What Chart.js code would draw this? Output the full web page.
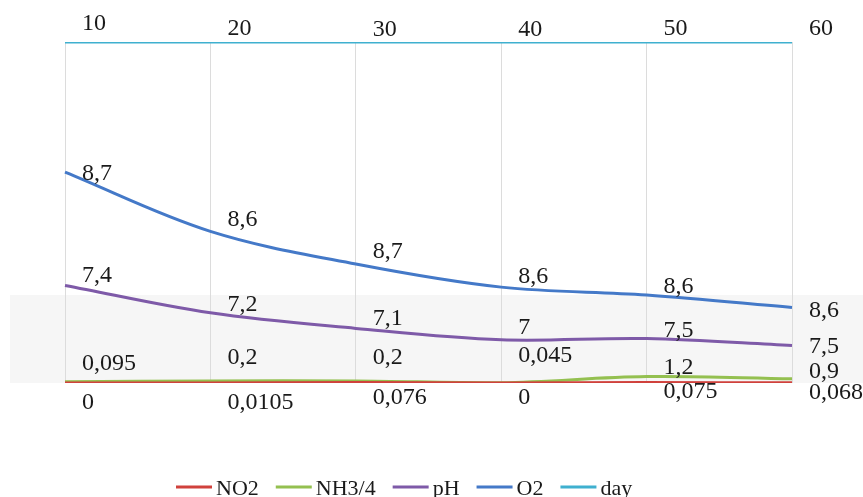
<!DOCTYPE html>
<html>
<head>
<meta charset="utf-8">
<title>Water parameters by day</title>
<script src="https://cdn.jsdelivr.net/npm/chart.js@4.4.1/dist/chart.umd.min.js"></script>
<style>
  html, body { margin: 0; padding: 0; background: #ffffff; }
  #wrap { position: relative; width: 863px; height: 497px; }
</style>
</head>
<body>
<div id="wrap"><canvas id="chart" width="863" height="497"></canvas></div>
<script>
// Measurements per sampling day
const days = [10, 20, 30, 40, 50, 60];
const no2  = [0, 0.0105, 0.076, 0, 0.075, 0.068];
const nh3  = [0.095, 0.2, 0.2, 0.045, 1.2, 0.9];
const ph   = [7.4, 7.2, 7.1, 7, 7.5, 7.5];
const o2   = [8.7, 8.6, 8.7, 8.6, 8.6, 8.6];
const dayValues = days.slice();

const seriesNames = ['NO2', 'NH3/4', 'pH', 'O2', 'day'];
const seriesValues = [no2, nh3, ph, o2, dayValues];
const seriesColors = ['#d0413c', '#94c050', '#7e5aa8', '#4479c8', '#3fb0cf'];

// Vertical placement of each value label relative to its point (px)
const labelShiftY = [
  [20, 20, 15, 15, 9, 10],
  [-18, -23, -23, -27, -9, -7],
  [-10, -8, -10, -12, -8, 1],
  [2, -12, -12, -10, -8, 3],
  [-18, -13, -12, -12, -13, -13]
];

// 100% stacked: each series expressed as a share of the per-day total
const totals = days.map((_, i) => seriesValues.reduce((s, arr) => s + arr[i], 0));
const toShare = arr => arr.map((v, i) => v / totals[i] * 100);

const FONT = '"Liberation Serif", "Times New Roman", serif';

const datasets = seriesNames.map((name, k) => ({
  label: name,
  data: toShare(seriesValues[k]),
  raw: seriesValues[k],
  borderColor: seriesColors[k],
  backgroundColor: seriesColors[k],
  borderWidth: 3,
  pointRadius: 0,
  pointHoverRadius: 0,
  tension: 0.35,
  fill: false,
  order: k
}));

// Light band behind the lower part of the plot
const bandPlugin = {
  id: 'band',
  beforeDraw(chart) {
    const { ctx, chartArea } = chart;
    ctx.save();
    ctx.fillStyle = '#f6f6f6';
    ctx.fillRect(10, chartArea.bottom - 88, chart.width - 10, 88);
    ctx.restore();
  }
};

// Value labels: raw value written right of each point
const valueLabels = {
  id: 'valueLabels',
  afterDatasetsDraw(chart) {
    const { ctx } = chart;
    ctx.save();
    ctx.font = '24px ' + FONT;
    ctx.fillStyle = '#1a1a1a';
    ctx.textAlign = 'left';
    ctx.textBaseline = 'middle';
    chart.data.datasets.forEach((ds, k) => {
      const meta = chart.getDatasetMeta(k);
      meta.data.forEach((pt, i) => {
        const txt = String(ds.raw[i]).replace('.', ',');
        ctx.fillText(txt, pt.x + 17, pt.y + labelShiftY[k][i]);
      });
    });
    ctx.restore();
  }
};

// Series key along the bottom edge: short line sample followed by the name
const seriesKey = {
  id: 'seriesKey',
  afterDraw(chart) {
    const { ctx } = chart;
    const startX = 176, lineY = 487, textY = 489;
    ctx.save();
    ctx.font = '22px ' + FONT;
    ctx.textAlign = 'left';
    ctx.textBaseline = 'middle';
    let x = startX;
    chart.data.datasets.forEach((ds) => {
      ctx.strokeStyle = ds.borderColor;
      ctx.lineWidth = 3;
      ctx.beginPath();
      ctx.moveTo(x, lineY);
      ctx.lineTo(x + 36, lineY);
      ctx.stroke();
      ctx.fillStyle = '#1a1a1a';
      ctx.fillText(ds.label, x + 40, textY);
      x += 36 + 4 + ctx.measureText(ds.label).width + 17;
    });
    ctx.restore();
  }
};

new Chart(document.getElementById('chart'), {
  type: 'line',
  data: { labels: days.map(String), datasets },
  options: {
    responsive: false,
    animation: false,
    layout: { padding: { top: 42, left: 65, right: 71, bottom: 0 } },
    scales: {
      x: {
        offset: false,
        grid: { display: true, color: '#dcdcdc', lineWidth: 1, drawTicks: false },
        border: { display: false },
        ticks: { display: false },
        afterFit(scale) { scale.height = 114; }
      },
      y: {
        display: false,
        stacked: true,
        min: 0,
        max: 100
      }
    },
    plugins: {
      legend: { display: false },
      tooltip: { enabled: false }
    }
  },
  plugins: [bandPlugin, valueLabels, seriesKey]
});
</script>
</body>
</html>
